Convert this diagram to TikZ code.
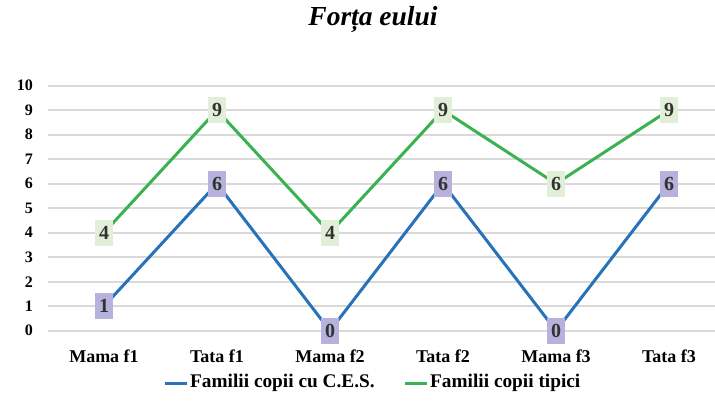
\documentclass[tikz,border=0pt]{standalone}
\usepackage{fontspec}
\setmainfont{Liberation Serif}
\definecolor{serblue}{RGB}{40,114,186}
\definecolor{sergreen}{RGB}{58,178,82}
\definecolor{boxblue}{RGB}{182,178,220}
\definecolor{boxgreen}{RGB}{226,239,216}
\definecolor{gridgray}{RGB}{217,217,217}
\definecolor{lbl}{RGB}{50,50,50}
\tikzset{
  gridline/.style={gridgray, line width=1.6pt},
  ytick/.style={anchor=east, font=\fontsize{16}{16}\selectfont\bfseries, inner sep=0pt},
  cat/.style={anchor=center, font=\fontsize{18}{18}\selectfont\bfseries, inner sep=0pt},
  serA/.style={serblue, line width=3pt, line join=round},
  serB/.style={sergreen, line width=3pt, line join=round},
  lblA/.style={fill=boxblue, text=lbl, minimum width=18pt, minimum height=26pt, inner sep=0pt, font=\fontsize{20}{20}\selectfont\bfseries},
  lblB/.style={fill=boxgreen, text=lbl, minimum width=18pt, minimum height=26pt, inner sep=0pt, font=\fontsize{20}{20}\selectfont\bfseries},
  legtext/.style={anchor=west, font=\fontsize{19.3}{19.3}\selectfont\bfseries, inner sep=0pt},
}
\begin{document}
\begin{tikzpicture}[x=1pt,y=-1pt]
\useasboundingbox (0,0) rectangle (715,400);
% title
\node[font=\fontsize{27.5}{27.5}\selectfont\bfseries\itshape] (title) at (373,19) {Forța eului};
% grid and y labels
\foreach \v in {0,...,10}{
  \draw[gridline] (48,{330.7-24.5*\v}) -- (715,{330.7-24.5*\v});
  \node[ytick] (y\v) at (33,{330.7-24.5*\v}) {\v};
}
% category labels
\node[cat] (c1) at (104,356) {Mama f1};
\node[cat] (c2) at (217,356) {Tata f1};
\node[cat] (c3) at (330,356) {Mama f2};
\node[cat] (c4) at (443,356) {Tata f2};
\node[cat] (c5) at (556,356) {Mama f3};
\node[cat] (c6) at (669,356) {Tata f3};
% series points
\coordinate (a1) at (104,{330.7-24.5*1});
\coordinate (a2) at (217,{330.7-24.5*6});
\coordinate (a3) at (330,{330.7-24.5*0});
\coordinate (a4) at (443,{330.7-24.5*6});
\coordinate (a5) at (556,{330.7-24.5*0});
\coordinate (a6) at (669,{330.7-24.5*6});
\coordinate (b1) at (104,{330.7-24.5*4});
\coordinate (b2) at (217,{330.7-24.5*9});
\coordinate (b3) at (330,{330.7-24.5*4});
\coordinate (b4) at (443,{330.7-24.5*9});
\coordinate (b5) at (556,{330.7-24.5*6});
\coordinate (b6) at (669,{330.7-24.5*9});
\draw[serB] (b1) -- (b2) -- (b3) -- (b4) -- (b5) -- (b6);
\draw[serA] (a1) -- (a2) -- (a3) -- (a4) -- (a5) -- (a6);
% data labels
\node[lblA] (la1) at (a1) {1};
\node[lblA] (la2) at (a2) {6};
\node[lblA] (la3) at (a3) {0};
\node[lblA] (la4) at (a4) {6};
\node[lblA] (la5) at (a5) {0};
\node[lblA] (la6) at (a6) {6};
\node[lblB] (lb1) at (b1) {4};
\node[lblB] (lb2) at (b2) {9};
\node[lblB] (lb3) at (b3) {4};
\node[lblB] (lb4) at (b4) {9};
\node[lblB] (lb5) at (b5) {6};
\node[lblB] (lb6) at (b6) {9};
% legend
\coordinate (la) at (165,383);
\coordinate (lae) at (187,383);
\draw[serA] (la) -- (lae);
\node[legtext] (lta) at (190,383) {Familii copii cu C.E.S.};
\coordinate (lg) at (405,383);
\coordinate (lge) at (427,383);
\draw[serB] (lg) -- (lge);
\node[legtext] (ltb) at (430,383) {Familii copii tipici};
\end{tikzpicture}
\end{document}
